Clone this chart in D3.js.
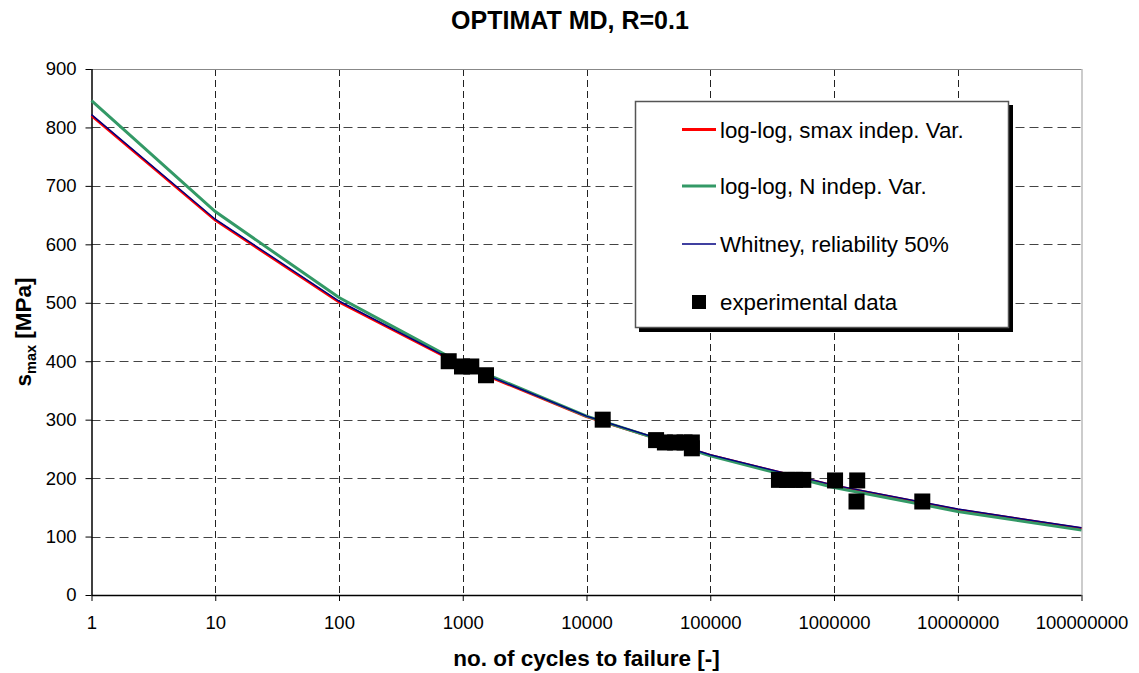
<!DOCTYPE html>
<html>
<head>
<meta charset="utf-8">
<script src="https://cdn.jsdelivr.net/npm/d3@7"></script>
<style>
  html, body { margin: 0; padding: 0; background: #fff; }
  svg { display: block; font-family: Arial, "Liberation Sans", sans-serif; }
</style>
</head>
<body>
<svg id="chart" width="1139" height="673"></svg>
<script>
// ---- data ----
const cycles = [1, 10, 100, 1000, 10000, 100000, 1000000, 10000000, 100000000];
const logLogSmax = [820, 641, 501, 392, 305, 239, 187, 146, 114];
const logLogN    = [846, 656, 509, 395, 306, 238, 184, 143, 111];
const whitney50  = [822, 643, 503, 393, 306, 240, 188, 147, 115];
const expCycles = [770, 986, 1172, 1541, 13520, 36500, 43000, 52000, 62000, 71000, 71000,
                   359000, 417000, 485000, 565000, 1020000, 1540000, 1520000, 5170000];
const expStress = [400, 391, 391, 376, 300, 265, 261, 261, 261, 261, 251,
                   197, 197, 197, 197, 196, 196, 160, 160];
const xTicks = [1, 10, 100, 1000, 10000, 100000, 1000000, 10000000, 100000000];
const yTicks = [0, 100, 200, 300, 400, 500, 600, 700, 800, 900];
const seriesNames = ["log-log, smax indep. Var.", "log-log, N indep. Var.", "Whitney, reliability 50%", "experimental data"];
const title = "OPTIMAT MD, R=0.1";

// ---- layout ----
const L = 91.5, R = 1081.5, T = 69, B = 595;
const svg = d3.select("#chart");
const x = d3.scaleLog().domain([1, 1e8]).range([L, R]);
const y = d3.scaleLinear().domain([0, 900]).range([B, T]);

// grid
svg.append("g").selectAll("line").data(yTicks.filter(d => d > 0)).join("line")
  .attr("x1", L).attr("x2", R).attr("y1", d => Math.round(y(d)) + 0.5).attr("y2", d => Math.round(y(d)) + 0.5)
  .attr("stroke", "#444").attr("stroke-width", 1).attr("stroke-dasharray", "9,5");
svg.append("g").selectAll("line").data(xTicks.slice(1, -1)).join("line")
  .attr("x1", d => Math.round(x(d)) + 0.5).attr("x2", d => Math.round(x(d)) + 0.5).attr("y1", T).attr("y2", B)
  .attr("stroke", "#222").attr("stroke-width", 1).attr("stroke-dasharray", "7,4");

// plot frame top/right
svg.append("line").attr("x1", L).attr("x2", R).attr("y1", T + 0.5).attr("y2", T + 0.5).attr("stroke", "#888");
svg.append("line").attr("x1", R + 0.5).attr("x2", R + 0.5).attr("y1", T).attr("y2", B).attr("stroke", "#999");

// axes
const xAxis = d3.axisBottom(x).tickValues(xTicks).tickFormat(d3.format("d")).tickSize(6).tickPadding(15);
const gx = svg.append("g").attr("transform", `translate(0,${B})`).call(xAxis);
const yAxis = d3.axisLeft(y).tickValues(yTicks).tickSize(6).tickPadding(9);
const gy = svg.append("g").attr("transform", `translate(${L},0)`).call(yAxis);
[gx, gy].forEach(g => {
  g.select(".domain").attr("stroke", "#000").attr("stroke-width", 1.5);
  g.selectAll(".tick line").attr("stroke", "#000");
  g.selectAll(".tick text").attr("fill", "#000").style("font-size", "18.5px")
   .style("font-family", "Arial, 'Liberation Sans', sans-serif");
});
gx.select(".domain").attr("d", `M${L},0.5H${R}`);
gy.select(".domain").attr("d", `M0.5,${B}V${T}`);

// curves
const line = d3.line().x(d => x(d[0])).y(d => y(d[1]));
const curves = [
  { vals: logLogSmax, color: "#ff0000", w: 2.5 },
  { vals: logLogN, color: "#339966", w: 3 },
  { vals: whitney50, color: "#000080", w: 1.5 }
];
curves.forEach(c => {
  svg.append("path").datum(cycles.map((n, i) => [n, c.vals[i]]))
    .attr("d", line).attr("fill", "none").attr("stroke", c.color).attr("stroke-width", c.w);
});

// experimental points
const sq = 16;
svg.append("g").selectAll("rect").data(expCycles.map((n, i) => [n, expStress[i]])).join("rect")
  .attr("x", d => x(d[0]) - sq / 2).attr("y", d => y(d[1]) - sq / 2)
  .attr("width", sq).attr("height", sq).attr("fill", "#000");

// title
svg.append("text").attr("x", 570).attr("y", 29).attr("text-anchor", "middle")
  .style("font-size", "25px").style("font-weight", "bold").text(title);

// axis titles
svg.append("text").attr("x", (L + R) / 2).attr("y", 666).attr("text-anchor", "middle")
  .style("font-size", "22.5px").style("font-weight", "bold").text("no. of cycles to failure [-]");
const yt = svg.append("text").attr("transform", `translate(31,${(T + B) / 2}) rotate(-90)`)
  .attr("text-anchor", "middle").style("font-size", "22.5px").style("font-weight", "bold");
yt.append("tspan").text("s");
yt.append("tspan").attr("dy", 5).style("font-size", "14.5px").text("max");
yt.append("tspan").attr("dy", -5).text(" [MPa]");

// legend
const lg = svg.append("g");
lg.append("rect").attr("x", 639).attr("y", 105).attr("width", 374).attr("height", 227).attr("fill", "#000");
lg.append("rect").attr("x", 635.5).attr("y", 101.5).attr("width", 373).attr("height", 226)
  .attr("fill", "#fff").attr("stroke", "#555").attr("stroke-width", 1.5);
const lgY = [129.5, 186, 244, 302];
curves.forEach((c, i) => {
  lg.append("line").attr("x1", 682).attr("x2", 716).attr("y1", lgY[i]).attr("y2", lgY[i])
    .attr("stroke", c.color).attr("stroke-width", i === 2 ? 1.5 : 3);
});
lg.append("rect").attr("x", 692).attr("y", lgY[3] - 7).attr("width", 14).attr("height", 14).attr("fill", "#000");
seriesNames.forEach((s, i) => {
  lg.append("text").attr("x", 720).attr("y", lgY[i] + 8).style("font-size", "22.3px").text(s);
});
</script>
</body>
</html>
